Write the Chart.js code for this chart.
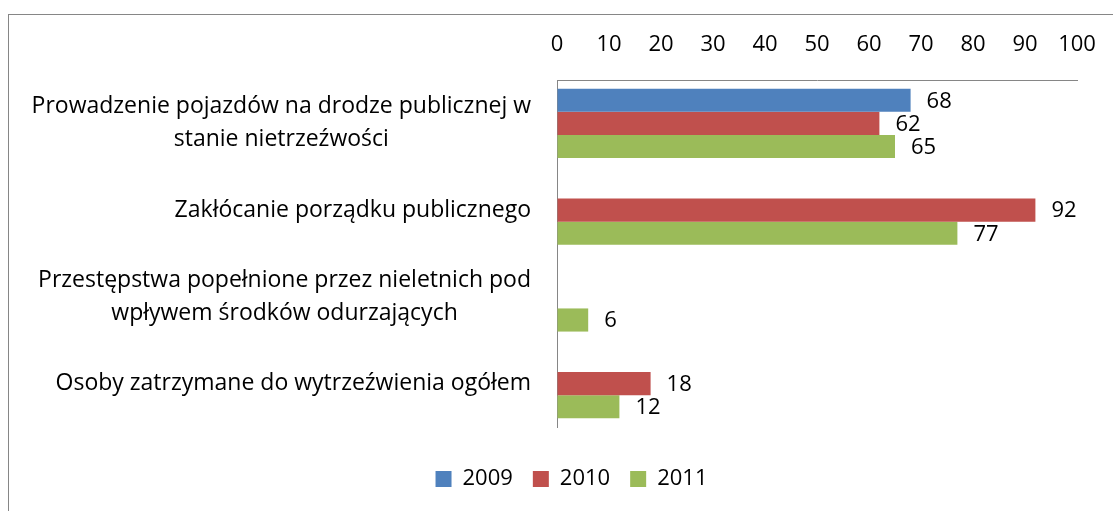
<!DOCTYPE html>
<html>
<head>
<meta charset="utf-8">
<script src="https://cdn.jsdelivr.net/npm/chart.js@4"></script>
<style>
  body { margin: 0; background: #fff; }
  #wrap { position: relative; width: 1113px; height: 511px; overflow: hidden; }
  #frame { position: absolute; left: 8px; top: 14px; width: 2000px; height: 2000px;
           border-left: 1px solid #868686; border-top: 1px solid #868686; }
  #chart { position: absolute; left: 0; top: 0; }
</style>
</head>
<body>
<div id="wrap">
  <div id="frame"></div>
  <canvas id="chart" width="1113" height="511"></canvas>
</div>
<script>
// Chart data
const categories = [
    ['Prowadzenie pojazdów na drodze publicznej w', 'stanie nietrzeźwości'],
    ['Zakłócanie porządku publicznego'],
    ['Przestępstwa popełnione przez nieletnich pod', 'wpływem środków odurzających'],
    ['Osoby zatrzymane do wytrzeźwienia ogółem']
];
const seriesNames = ['2009', '2010', '2011'];
const values2009 = [68, null, null, null];
const values2010 = [62, 92, null, 18];
const values2011 = [65, 77, 6, 12];
const xTicks = [0, 10, 20, 30, 40, 50, 60, 70, 80, 90, 100];

const colors = ['#4F81BD', '#C0504D', '#9BBB59'];
const fontFamily = "'Open Sans', sans-serif";
const fontSize = 22;
const labelFontSize = 23;
const axisColor = '#868686';
const padLeft = 66;

// Category labels: block right-aligned, lines centered inside the block
const categoryLabels = {
    id: 'categoryLabels',
    afterDraw(chart) {
        const ctx = chart.ctx;
        const yScale = chart.scales.y;
        const right = 531;
        const lineGap = 33;
        ctx.save();
        ctx.font = labelFontSize + 'px ' + fontFamily;
        ctx.fillStyle = '#000';
        ctx.textAlign = 'center';
        ctx.textBaseline = 'middle';
        categories.forEach((lines, i) => {
            const widths = lines.map(l => ctx.measureText(l).width);
            const cx = right - Math.max(...widths) / 2;
            const cy = yScale.getPixelForTick(i);
            lines.forEach((line, j) => {
                const y = cy + (j - (lines.length - 1) / 2) * lineGap;
                ctx.fillText(line, cx, y);
            });
        });
        ctx.restore();
    }
};

// Value labels to the right of each bar
const valueLabels = {
    id: 'valueLabels',
    afterDatasetsDraw(chart) {
        const ctx = chart.ctx;
        ctx.save();
        ctx.font = fontSize + 'px ' + fontFamily;
        ctx.fillStyle = '#000';
        ctx.textAlign = 'left';
        ctx.textBaseline = 'middle';
        chart.data.datasets.forEach((ds, di) => {
            const meta = chart.getDatasetMeta(di);
            meta.data.forEach((bar, i) => {
                const v = ds.data[i];
                if (v === null || v === undefined) return;
                ctx.fillText(String(v), bar.x + 16, bar.y + 1);
            });
        });
        ctx.restore();
    }
};

new Chart(document.getElementById('chart'), {
    type: 'bar',
    data: {
        labels: categories,
        datasets: [
            { label: seriesNames[0], data: values2009, backgroundColor: colors[0] },
            { label: seriesNames[1], data: values2010, backgroundColor: colors[1] },
            { label: seriesNames[2], data: values2011, backgroundColor: colors[2] }
        ]
    },
    options: {
        indexAxis: 'y',
        responsive: false,
        animation: false,
        devicePixelRatio: 1,
        categoryPercentage: 0.8,
        barPercentage: 1.0,
        layout: { padding: { left: padLeft, right: 36, top: 0, bottom: 11 } },
        scales: {
            x: {
                position: 'top',
                min: 0,
                max: 100,
                afterBuildTicks: axis => { axis.ticks = xTicks.map(v => ({ value: v })); },
                afterFit: axis => {
                    axis.height = 80;
                    axis.paddingLeft = 0;
                    axis.paddingRight = 0;
                },
                grid: { display: true, drawOnChartArea: false, drawTicks: false },
                border: { display: true, color: axisColor, width: 1 },
                ticks: {
                    padding: 22,
                    color: '#000',
                    font: { family: fontFamily, size: fontSize }
                }
            },
            y: {
                afterFit: axis => { axis.width = 557 - padLeft; },
                grid: { display: true, drawOnChartArea: false, drawTicks: false },
                border: { display: true, color: axisColor, width: 1 },
                ticks: { display: false }
            }
        },
        plugins: {
            legend: {
                position: 'bottom',
                title: { display: true, text: '', font: { size: 10, lineHeight: 1 }, padding: { top: 0, bottom: 11 } },
                labels: {
                    boxWidth: 16,
                    boxHeight: 16,
                    padding: 20,
                    color: '#000',
                    font: { family: fontFamily, size: fontSize }
                }
            },
            tooltip: { enabled: false }
        }
    },
    plugins: [categoryLabels, valueLabels]
});
</script>
</body>
</html>
